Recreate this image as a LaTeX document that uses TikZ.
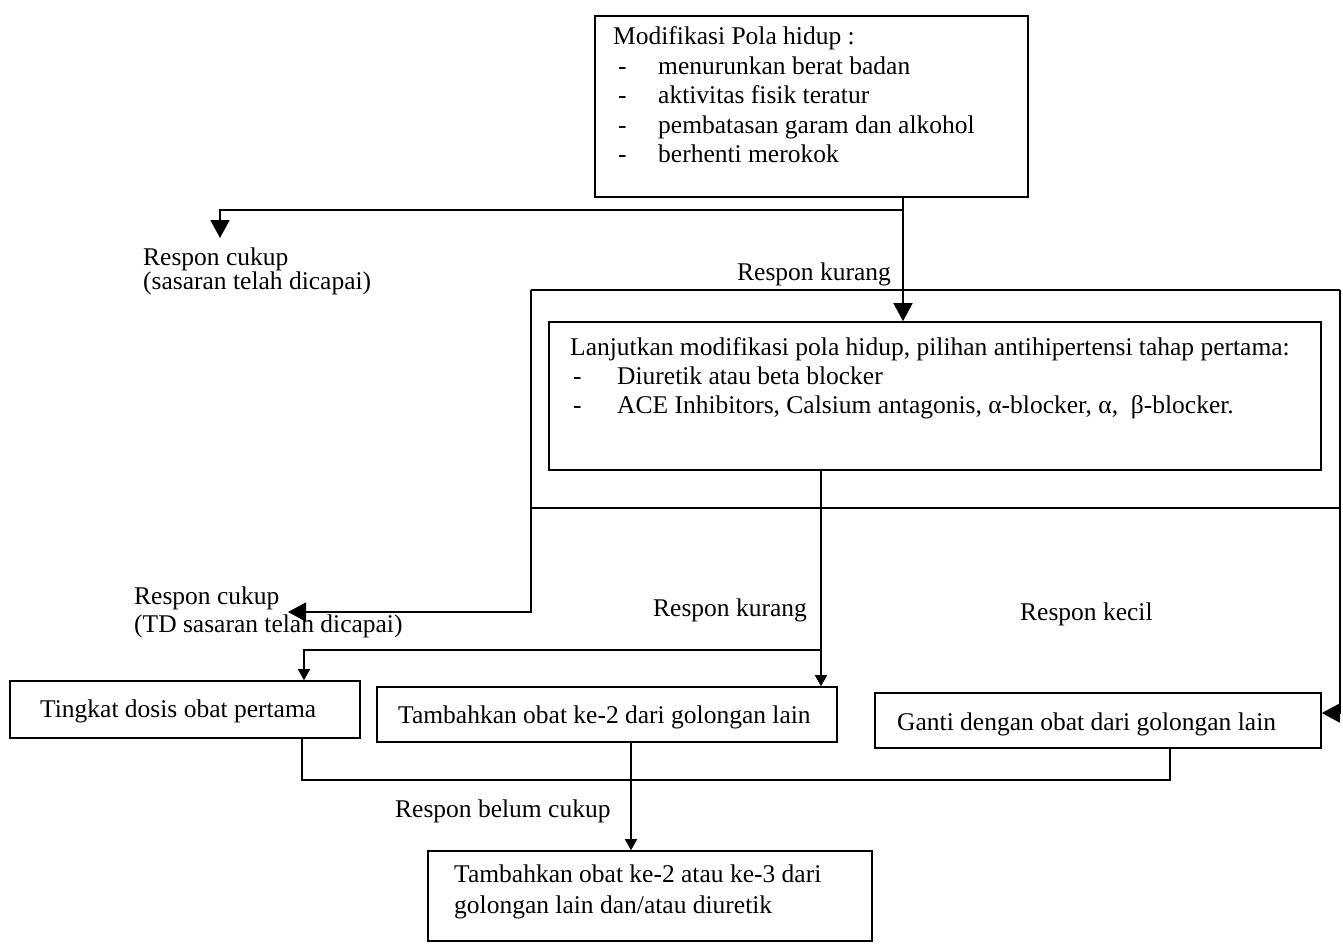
\documentclass[tikz,border=0pt]{standalone}
\usepackage{fontspec}
\setmainfont{Liberation Serif}
\usetikzlibrary{arrows.meta}

\tikzset{
  box/.style={draw, line width=1.6pt, inner sep=0pt},
  txt/.style={inner sep=0pt, anchor=base west, font=\fontsize{25.5}{26}\selectfont},
  wire/.style={line width=1.6pt},
  arr/.style={line width=1.6pt, -{Triangle[length=18pt,width=19pt]}},
  arrs/.style={line width=1.6pt, -{Triangle[length=11pt,width=12pt]}},
}

\begin{document}
\begin{tikzpicture}[x=1pt,y=1pt,yscale=-1]
\path (0,0) rectangle (1343,944); %picture frame, same as the scan

% boxes
\node[box, minimum width=433, minimum height=181] (pola) at (811.5,106.5) {};
\node[box, minimum width=772, minimum height=148] (lanjut) at (935,396) {};
\node[box, minimum width=350, minimum height=57] (tingkat) at (185,709.5) {};
\node[box, minimum width=460, minimum height=55] (tambah) at (607,714.5) {};
\node[box, minimum width=446, minimum height=55] (ganti) at (1098,720.5) {};
\node[box, minimum width=444, minimum height=90] (akhir) at (650,896) {};

% box texts
\node[txt, font=\fontsize{25.5}{29.5}\selectfont] (polaTxt) at (613,45) {\begin{tabular}[t]{@{}p{45pt}@{}l@{}}
\multicolumn{2}{@{}l@{}}{Modifikasi Pola hidup :}\\
\hspace{5pt}- & menurunkan berat badan\\
\hspace{5pt}- & aktivitas fisik teratur\\
\hspace{5pt}- & pembatasan garam dan alkohol\\
\hspace{5pt}- & berhenti merokok
\end{tabular}};
\node[txt, font=\fontsize{25.5}{29}\selectfont] (lanjutTxt) at (570,355) {\begin{tabular}[t]{@{}p{47pt}@{}l@{}}
\multicolumn{2}{@{}l@{}}{Lanjutkan modifikasi pola hidup, pilihan antihipertensi tahap pertama:}\\
\hspace{3pt}- & Diuretik atau beta blocker\\
\hspace{3pt}- & ACE Inhibitors, Calsium antagonis, α-blocker, α,~ β-blocker.
\end{tabular}};
\node[txt] (tingkatTxt) at (40,717) {Tingkat dosis obat pertama};
\node[txt] (tambahTxt) at (398,723) {Tambahkan obat ke-2 dari golongan lain};
\node[txt] (gantiTxt) at (897,730) {Ganti dengan obat dari golongan lain};
\node[txt, font=\fontsize{25.5}{31}\selectfont] (akhirTxt) at (454,882) {\begin{tabular}[t]{@{}l@{}}
Tambahkan obat ke-2 atau ke-3 dari\\
golongan lain dan/atau diuretik
\end{tabular}};

% response labels
\node[txt, font=\fontsize{25.5}{24}\selectfont] (cukupA) at (143,265) {\begin{tabular}[t]{@{}l@{}}Respon cukup\\(sasaran telah dicapai)\end{tabular}};
\node[txt] (kurangA) at (737,280) {Respon kurang};
\node[txt, font=\fontsize{25.5}{28}\selectfont] (cukupB) at (134,604) {\begin{tabular}[t]{@{}l@{}}Respon cukup\\(TD sasaran telah dicapai)\end{tabular}};
\node[txt] (kurangB) at (653,616) {Respon kurang};
\node[txt] (kecil) at (1020,620) {Respon kecil};
\node[txt] (belum) at (395,817) {Respon belum cukup};

% connectors, top part
\coordinate (k1) at (903,210);
\coordinate (okA) at (220,238);
\draw[wire] (pola.south -| k1) -- (k1);
\draw[arr] (k1) -- (lanjut.north -| k1);
\draw[arr] (k1) -| (okA);

% frame round the second step
\coordinate (fl) at (531,290);
\coordinate (fr) at (1340,290);
\coordinate (ml) at (531,508);
\coordinate (mr) at (1340,508);
\coordinate (okB) at (288,612);
\coordinate (gk) at (1340,713);
\draw[wire] (fl) -- (fr);
\draw[wire] (ml) -- (mr);
\draw[arr] (fl) |- (okB);
\draw[arr] (fr) -- (gk) -- (ganti.east |- gk);

% from second step to the three choices
\coordinate (k2) at (821,650);
\coordinate (k3) at (304,650);
\draw[wire] (lanjut.south -| k2) -- (k2);
\draw[arrs] (k2) -- (tambah.north -| k2);
\draw[arrs] (k2) -- (k3) -- (tingkat.north -| k3);

% bottom
\coordinate (b1) at (302,780);
\coordinate (b2) at (1170,780);
\coordinate (b3) at (631,780);
\draw[wire] (tingkat.south -| b1) -- (b1) -- (b2) -- (ganti.south -| b2);
\draw[arrs] (tambah.south -| b3) -- (akhir.north -| b3);
\end{tikzpicture}
\end{document}
